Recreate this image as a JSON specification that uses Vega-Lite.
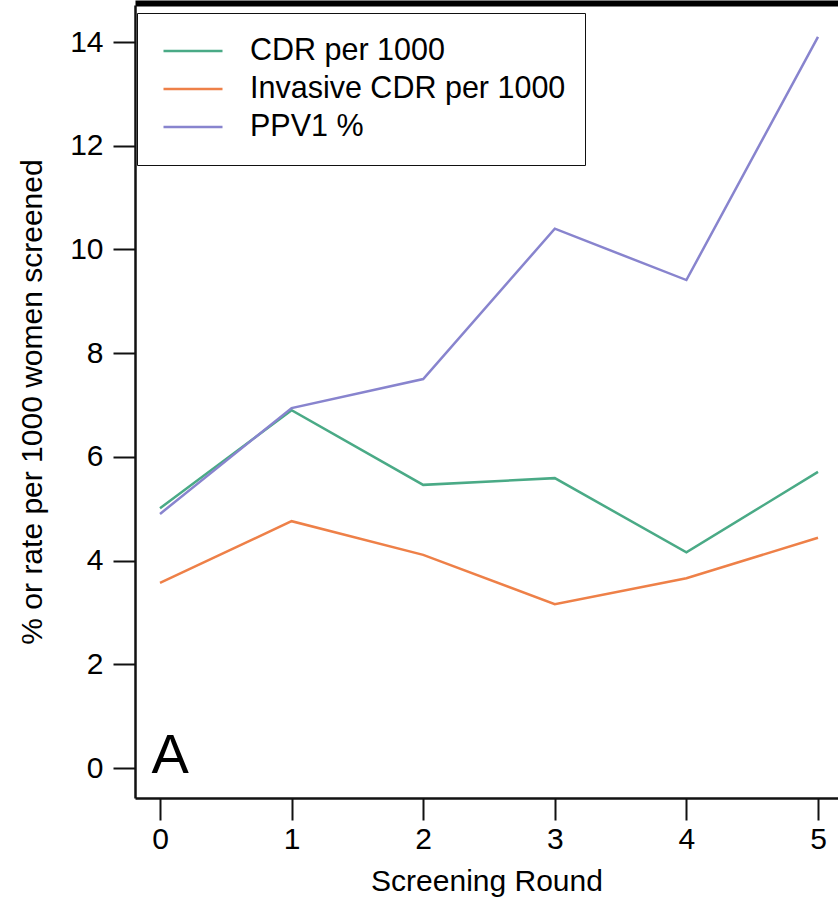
{
  "$schema": "https://vega.github.io/schema/vega-lite/v6.json",
  "width": 703,
  "height": 793,
  "autosize": {"type": "none"},
  "padding": {"left": 135, "top": 5, "right": 0, "bottom": 108},
  "background": "white",
  "config": {
    "view": {"stroke": null},
    "font": "Liberation Sans",
    "axis": {"grid": false, "labelFont": "Liberation Sans", "titleFont": "Liberation Sans", "labelColor": "black", "titleColor": "black", "titleFontWeight": "normal", "domainColor": "#111", "tickColor": "#111"}
  },
  "layer": [
    {
      "data": {"values": [
        {"series": "CDR per 1000", "round": 0, "value": 5.01},
        {"series": "CDR per 1000", "round": 1, "value": 6.9},
        {"series": "CDR per 1000", "round": 2, "value": 5.46},
        {"series": "CDR per 1000", "round": 3, "value": 5.59},
        {"series": "CDR per 1000", "round": 4, "value": 4.16},
        {"series": "CDR per 1000", "round": 5, "value": 5.71},
        {"series": "Invasive CDR per 1000", "round": 0, "value": 3.57},
        {"series": "Invasive CDR per 1000", "round": 1, "value": 4.76},
        {"series": "Invasive CDR per 1000", "round": 2, "value": 4.11},
        {"series": "Invasive CDR per 1000", "round": 3, "value": 3.16},
        {"series": "Invasive CDR per 1000", "round": 4, "value": 3.66},
        {"series": "Invasive CDR per 1000", "round": 5, "value": 4.44},
        {"series": "PPV1 %", "round": 0, "value": 4.9},
        {"series": "PPV1 %", "round": 1, "value": 6.94},
        {"series": "PPV1 %", "round": 2, "value": 7.5},
        {"series": "PPV1 %", "round": 3, "value": 10.4},
        {"series": "PPV1 %", "round": 4, "value": 9.41},
        {"series": "PPV1 %", "round": 5, "value": 14.1}
      ]},
      "mark": {"type": "line", "strokeWidth": 2.5, "clip": false},
      "encoding": {
        "x": {
          "field": "round", "type": "quantitative",
          "scale": {"domain": [-0.19, 5.152], "nice": false, "zero": false},
          "axis": {"orient": "bottom", "title": "Screening Round", "values": [0, 1, 2, 3, 4, 5], "format": "d",
                   "labelFontSize": 30, "titleFontSize": 30, "tickSize": 22, "tickWidth": 2, "domainWidth": 2.5,
                   "labelPadding": 4, "titlePadding": 12, "labelFlush": false}
        },
        "y": {
          "field": "value", "type": "quantitative",
          "scale": {"domain": [-0.5785, 14.714], "nice": false, "zero": false},
          "axis": {"orient": "left", "title": "% or rate per 1000 women screened", "values": [0, 2, 4, 6, 8, 10, 12, 14],
                   "labelFontSize": 30, "titleFontSize": 30, "tickSize": 22, "tickWidth": 2, "domainWidth": 2.5,
                   "labelPadding": 10, "titlePadding": 22, "labelFlush": false}
        },
        "color": {
          "field": "series", "type": "nominal",
          "scale": {"domain": ["CDR per 1000", "Invasive CDR per 1000", "PPV1 %"], "range": ["#4AAA86", "#EE8048", "#8884CE"]},
          "legend": {
            "orient": "none", "legendX": 2, "legendY": 8, "title": null,
            "symbolType": "stroke", "symbolSize": 3481, "symbolStrokeWidth": 2.5, "symbolOffset": 6,
            "labelFontSize": 30.5, "labelFont": "Liberation Sans", "labelColor": "black", "labelOffset": 26,
            "clipHeight": 38, "rowPadding": 0, "padding": 19,
            "strokeColor": "#111", "fillColor": "white", "labelLimit": 600
          }
        }
      }
    },
    {
      "data": {"values": [{"label": "A", "round": -0.065, "value": -0.1}]},
      "mark": {"type": "text", "align": "left", "baseline": "alphabetic", "fontSize": 56, "font": "Liberation Sans", "color": "black"},
      "encoding": {
        "x": {"field": "round", "type": "quantitative",
              "axis": {"orient": "top", "title": null, "labels": false, "ticks": false, "domainWidth": 6, "domainColor": "black", "offset": 2}},
        "y": {"field": "value", "type": "quantitative", "axis": null},
        "text": {"field": "label"}
      }
    }
  ],
  "resolve": {"axis": {"x": "independent", "y": "independent"}}
}
